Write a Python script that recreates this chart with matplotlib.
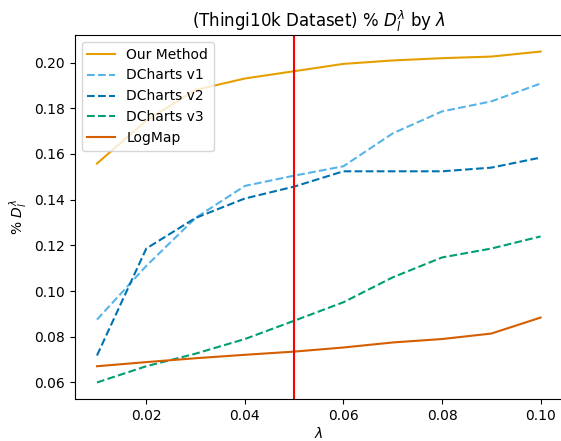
import numpy as np
import matplotlib
matplotlib.use('Agg')
import matplotlib.pyplot as plt

lambdas = [0.01, 0.02, 0.03, 0.04, 0.05, 0.06, 0.07, 0.08, 0.09, 0.10]
our_method = [0.1558, 0.1746, 0.1880, 0.1930, 0.1962, 0.1994, 0.2009, 0.2019, 0.2026, 0.2048]
dcharts_v1 = [0.0875, 0.1110, 0.1320, 0.1460, 0.1505, 0.1546, 0.1690, 0.1786, 0.1830, 0.1908]
dcharts_v2 = [0.0718, 0.1186, 0.1320, 0.1405, 0.1457, 0.1524, 0.1524, 0.1524, 0.1540, 0.1584]
dcharts_v3 = [0.0600, 0.0671, 0.0726, 0.0790, 0.0870, 0.0951, 0.1060, 0.1147, 0.1186, 0.1239]
logmap = [0.0671, 0.0689, 0.0706, 0.0721, 0.0735, 0.0753, 0.0775, 0.0790, 0.0814, 0.0884]
chosen_lambda = 0.05

fig = plt.figure(figsize=(5.61, 4.41), dpi=100)
# the reference is cropped on the right, so the right spine falls just outside the image
ax = fig.add_axes([74.8/561, 42/441, 488/561, 364/441])

ax.plot(lambdas, our_method, color='#E69F00', label='Our Method')
ax.plot(lambdas, dcharts_v1, color='#56B4E9', linestyle='--', label='DCharts v1')
ax.plot(lambdas, dcharts_v2, color='#0072B2', linestyle='--', label='DCharts v2')
ax.plot(lambdas, dcharts_v3, color='#009E73', linestyle='--', label='DCharts v3')
ax.plot(lambdas, logmap, color='#D55E00', label='LogMap')
ax.axvline(chosen_lambda, color='red')

ax.set_title(r'(Thingi10k Dataset) % $D_l^\lambda$ by $\lambda$')
ax.set_xlabel(r'$\lambda$', labelpad=2)
ax.set_ylabel(r'% $D_l^\lambda$')
ax.legend(loc='upper left')

fig.savefig('out.png', dpi=100)
